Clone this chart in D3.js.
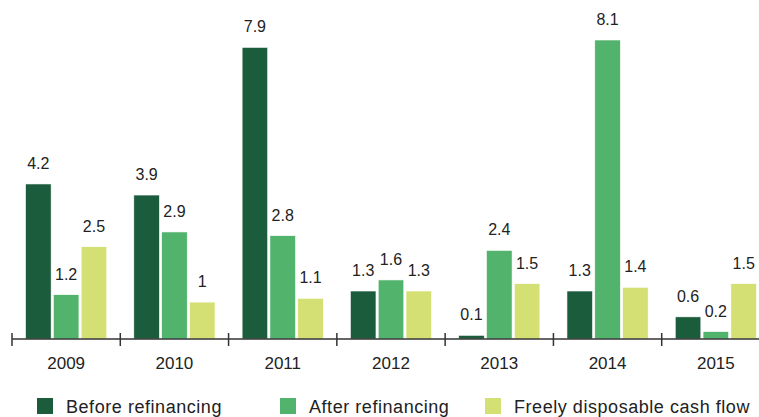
<!DOCTYPE html>
<html>
<head>
<meta charset="utf-8">
<script src="https://cdn.jsdelivr.net/npm/d3@7"></script>
<style>
  body { margin: 0; background: #fff; }
  text { font-family: "Liberation Sans", Arial, sans-serif; fill: #222; }
</style>
</head>
<body>
<div id="chart"></div>
<script>
let years = ["2009", "2010", "2011", "2012", "2013", "2014", "2015"];
let seriesNames = ["Before refinancing", "After refinancing", "Freely disposable cash flow"];
let beforeValues = [4.2, 3.9, 7.9, 1.3, 0.1, 1.3, 0.6];
let afterValues = [1.2, 2.9, 2.8, 1.6, 2.4, 8.1, 0.2];
let freeValues = [2.5, 1, 1.1, 1.3, 1.5, 1.4, 1.5];
let seriesColors = ["#1b5c3d", "#52b36c", "#d5e074"];

let width = 759,
    height = 417,
    baseline = 339;

let rows = years.map(function(y, i) {
    return {year: y, values: [beforeValues[i], afterValues[i], freeValues[i]]};
});

let svg = d3.select("#chart")
    .append("svg")
    .attr("width", width)
    .attr("height", height);

let x0 = d3.scaleBand()
    .domain(years)
    .range([12, 770])
    .paddingInner(0.25)
    .paddingOuter(0.125);

let x1 = d3.scaleBand()
    .domain(seriesNames)
    .range([0, x0.bandwidth()])
    .paddingInner(0.08);

let yScale = d3.scaleLinear()
    .domain([0, 8.1])
    .range([baseline, 40]);

let colour = d3.scaleOrdinal()
    .domain(seriesNames)
    .range(seriesColors);

let groups = svg.selectAll(".group")
    .data(rows)
    .enter().append("g")
    .attr("class", "group")
    .attr("transform", function(d) { return "translate(" + x0(d.year) + ",0)"; });

let cells = groups.selectAll(".cell")
    .data(function(d) {
        return d.values.map(function(v, i) { return {name: seriesNames[i], value: v}; });
    })
    .enter();

cells.append("rect")
    .attr("x", function(d) { return x1(d.name); })
    .attr("y", function(d) { return yScale(d.value); })
    .attr("width", x1.bandwidth())
    .attr("height", function(d) { return baseline - yScale(d.value); })
    .attr("fill", function(d) { return colour(d.name); })
    .attr("stroke", "#fff")
    .attr("stroke-width", 0.6);

cells.append("text")
    .attr("x", function(d) { return x1(d.name) + x1.bandwidth() / 2; })
    .attr("y", function(d) { return yScale(d.value) - 15; })
    .attr("text-anchor", "middle")
    .attr("font-size", 16)
    .text(function(d) { return d.value; });

// axis line with ticks at the group boundaries
let step = x0.step();
svg.append("line")
    .attr("x1", 12).attr("x2", width)
    .attr("y1", baseline).attr("y2", baseline)
    .attr("stroke", "#333").attr("stroke-width", 1.5);

let boundaries = years.map(function(y) { return x0(y) - step * x0.paddingInner() / 2; });
boundaries.push(boundaries[boundaries.length - 1] + step);

svg.selectAll(".tick")
    .data(boundaries)
    .enter().append("line")
    .attr("x1", function(d) { return d; })
    .attr("x2", function(d) { return d; })
    .attr("y1", baseline - 6)
    .attr("y2", baseline + 7)
    .attr("stroke", "#333")
    .attr("stroke-width", 1.5);

svg.selectAll(".yearLabel")
    .data(years)
    .enter().append("text")
    .attr("x", function(d) { return x0(d) + x0.bandwidth() / 2; })
    .attr("y", 368.5)
    .attr("text-anchor", "middle")
    .attr("font-size", 17)
    .text(function(d) { return d; });

// legend
let legendX = [37, 280, 485];
let legend = svg.selectAll(".legend")
    .data(seriesNames)
    .enter().append("g")
    .attr("transform", function(d, i) { return "translate(" + legendX[i] + ",398)"; });

legend.append("rect")
    .attr("width", 16)
    .attr("height", 16)
    .attr("fill", function(d) { return colour(d); });

legend.append("text")
    .attr("x", 29)
    .attr("y", 15)
    .attr("font-size", 18)
    .attr("letter-spacing", 0.55)
    .text(function(d) { return d; });
</script>
</body>
</html>
